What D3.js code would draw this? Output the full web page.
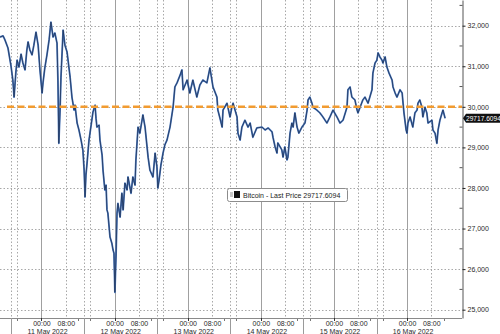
<!DOCTYPE html>
<html>
<head>
<meta charset="utf-8">
<script src="https://cdn.jsdelivr.net/npm/d3@7"></script>
<style>
  body { margin: 0; background: #fff; overflow: hidden; }
  svg { display: block; font-family: "Liberation Sans", Arial, sans-serif; }
</style>
</head>
<body>
<div id="chart"></div>
<script>
const seriesName = 'Bitcoin - Last Price';
const lastPrice = 29717.6094;
const refLevel = 30000;
const dayLabels = ['11 May 2022', '12 May 2022', '13 May 2022', '14 May 2022', '15 May 2022', '16 May 2022'];
const priceTicks = [25000, 26000, 27000, 28000, 29000, 30000, 31000, 32000];

// hours after 11 May 2022 00:00, and the price at that time
const hours = [
  -13.6,-12.6,-12.0,-11.0,-10.0,-9.4,-9.0,-8.4,-8.0,-7.4,
  -6.7,-6.1,-5.4,-4.8,-4.4,-3.8,-3.1,-2.5,-1.8,-1.1,
  -0.5,0.2,0.5,1.1,1.8,2.5,3.1,3.8,4.4,5.1,
  5.4,5.7,6.1,6.4,7.1,7.7,8.4,9.4,10.0,10.7,
  11.0,11.7,12.3,13.0,13.6,14.0,14.3,14.6,14.9,15.6,
  16.3,16.9,17.6,17.9,18.2,18.9,19.2,19.9,20.2,20.8,
  21.2,21.5,21.8,22.5,23.1,23.5,23.8,24.1,24.5,24.8,
  25.1,25.8,26.4,26.8,27.4,28.1,28.4,29.4,30.0,30.7,
  31.0,31.7,32.3,33.3,34.0,35.0,35.6,36.6,37.3,37.9,
  38.2,38.6,39.2,39.9,40.5,41.2,42.2,43.2,43.8,44.5,
  45.5,46.1,46.5,47.8,48.7,49.7,51.0,52.0,53.0,54.3,
  55.3,56.3,57.6,57.9,58.6,59.3,59.6,60.9,61.9,62.5,
  62.9,64.2,64.5,65.2,65.8,66.8,67.8,68.5,69.4,70.7,
  72.4,73.4,74.4,75.7,76.0,76.7,77.3,77.6,78.9,79.3,
  79.9,80.6,80.9,81.6,82.2,82.6,83.2,83.9,84.5,85.5,
  86.5,87.2,87.5,88.1,88.8,89.1,90.4,91.4,92.4,93.7,
  94.7,95.7,97.0,98.0,99.0,100.3,100.6,101.3,101.9,102.9,
  103.6,103.9,104.6,105.5,106.2,107.2,107.8,108.5,108.8,109.5,
  110.1,110.5,111.1,111.8,112.1,112.8,113.4,114.1,115.1,115.4,
  116.1,116.7,117.7,118.4,118.7,119.0,119.7,120.0,120.3,121.0,
  121.9,122.6,123.3,123.6,124.2,124.9,125.2,125.9,126.5,126.9,
  128.2,128.5,129.2,129.8,130.2,130.8,131.5,131.8,132.5
];
const prices = [
  31720,31750,31650,31450,31005,30660,30240,30860,31150,30980,
  31300,31080,30910,31400,31600,31400,31280,31520,31840,31520,
  30910,30340,30590,30960,31280,31650,32090,31720,31820,31570,
  30660,29100,29920,30730,31890,31520,31350,30730,30240,29920,
  30040,29600,29430,29180,28930,28440,27780,28320,28560,29180,
  29550,29870,30040,29720,29500,29550,29180,28810,28440,27950,
  28070,27460,27380,26790,26640,26470,26390,25430,26390,27380,
  27620,27280,27870,27460,28120,27950,28270,27870,28270,28070,
  28690,29500,29350,29800,29500,28760,28440,28270,28860,28520,
  28000,28190,28560,28860,29060,29180,29500,29990,30490,30590,
  30780,30910,30420,30660,30340,30660,30240,30540,30660,30590,
  30960,30490,30240,29920,29720,29500,29920,30090,29750,29990,
  30090,29750,29350,29180,29500,29670,29500,29600,29250,29480,
  29500,29430,29480,29380,29250,29010,28860,29110,28940,28760,
  29010,28690,28760,29350,29600,29500,29850,29500,29350,29500,
  29600,29920,30170,30240,30090,29990,29920,29850,29750,29600,
  29750,29920,29750,29600,29670,29990,30420,30490,30240,30170,
  29920,29850,29990,30170,30240,30090,30240,30420,30830,31080,
  31150,31330,31230,31150,31080,31230,30980,30830,30660,30490,
  30340,30240,30420,30340,30090,29850,29430,29350,29600,29750,
  29500,29850,29920,30090,30170,29990,29750,29990,29850,29600,
  29670,29430,29350,29100,29430,29670,29850,29920,29718
];

const W = 500, H = 334;
const plotR = 462, plotB = 318;
const font = 7;

const days = dayLabels.map(d3.timeParse('%d %b %Y'));
const base = days[0];
const at = h => d3.timeMinute.offset(base, Math.round(h * 60));
const data = hours.map((h, i) => ({ t: at(h), p: prices[i] }));

const x = d3.scaleTime().domain([at(-13.62), at(138.05)]).range([0, plotR]);
const y = d3.scaleLinear().domain([24795, 32633]).range([plotB, 0]);
const px = d => Math.round(x(d)) + 0.5;

const svg = d3.select('#chart').append('svg')
  .attr('width', W).attr('height', H);

// horizontal grid
svg.append('g')
  .selectAll('line').data(priceTicks).join('line')
  .attr('x1', 0).attr('x2', plotR)
  .attr('y1', d => Math.round(y(d)) + 0.5).attr('y2', d => Math.round(y(d)) + 0.5)
  .attr('stroke', '#a8a8a8').attr('stroke-dasharray', '1.5,2');

// vertical grid: dotted at 08:00 / 16:00 and date separators, solid at midnight
const prevDays = [d3.timeDay.offset(days[0], -1), ...days.slice(0, -1)];
const separators = prevDays.map(d => d3.timeHour.offset(d, 14));
const dotted = [
  ...days.map(d => d3.timeHour.offset(d, 8)),
  ...prevDays.map(d => d3.timeHour.offset(d, 16)),
  ...separators
];
svg.append('g')
  .selectAll('line').data(dotted).join('line')
  .attr('x1', px).attr('x2', px)
  .attr('y1', 0).attr('y2', plotB)
  .attr('stroke', '#a8a8a8').attr('stroke-dasharray', '1.5,2');
svg.append('g')
  .selectAll('line').data(days).join('line')
  .attr('x1', px).attr('x2', px)
  .attr('y1', 0).attr('y2', plotB)
  .attr('stroke', '#a0a0a0');

// price line
const line = d3.line().x(d => x(d.t)).y(d => y(d.p));
svg.append('path').datum(data)
  .attr('d', line).attr('fill', 'none')
  .attr('stroke', '#4a78be').attr('stroke-width', 1.8).attr('stroke-linejoin', 'round');
svg.append('path').datum(data)
  .attr('d', line).attr('fill', 'none')
  .attr('stroke', '#1b2b4a').attr('stroke-width', 0.7).attr('stroke-linejoin', 'round');

// 30000 reference line
svg.append('line')
  .attr('x1', 7).attr('x2', plotR)
  .attr('y1', y(refLevel)).attr('y2', y(refLevel))
  .attr('stroke', '#f29b30').attr('stroke-width', 2.5).attr('stroke-dasharray', '7,3.5');

// bottom axis
svg.append('line').attr('x1', 0).attr('x2', plotR)
  .attr('y1', plotB + 0.5).attr('y2', plotB + 0.5).attr('stroke', '#8a8a8a');
const hourTicks = days.flatMap(d => [d, d3.timeHour.offset(d, 8)]);
svg.append('g').attr('transform', `translate(0,${plotB})`)
  .call(d3.axisBottom(x).tickValues(hourTicks).tickFormat(d3.timeFormat('%H:%M')).tickSize(0).tickPadding(3))
  .call(a => a.select('.domain').remove())
  .call(a => a.selectAll('text').attr('font-size', font).attr('fill', '#2a2a2a').attr('font-family', null));
svg.append('g').selectAll('line').data(days).join('line')
  .attr('x1', px).attr('x2', px)
  .attr('y1', plotB).attr('y2', plotB + 3).attr('stroke', '#333');
const minorX = prevDays.flatMap(d => [d3.timeHour.offset(d, 16), d3.timeHour.offset(d, 36)]);
svg.append('g').selectAll('line').data(minorX).join('line')
  .attr('x1', px).attr('x2', px)
  .attr('y1', plotB + 1).attr('y2', plotB + 3).attr('stroke', '#777');
svg.append('g').selectAll('line').data(separators).join('line')
  .attr('x1', px).attr('x2', px)
  .attr('y1', plotB).attr('y2', H).attr('stroke', '#9a9a9a');
svg.append('g').selectAll('text').data(dayLabels).join('text')
  .attr('x', (d, i) => x(d3.timeHour.offset(days[i], 2)))
  .attr('y', 334)
  .attr('text-anchor', 'middle').attr('font-size', font).attr('fill', '#2a2a2a')
  .text(d => d);

// right axis
const right = svg.append('g').attr('transform', `translate(${plotR + 0.5},0)`);
right.call(d3.axisRight(y).tickValues(priceTicks).tickSize(3).tickSizeOuter(0).tickPadding(2))
  .call(a => a.select('.domain').attr('stroke', '#555'))
  .call(a => a.selectAll('.tick line').attr('stroke', '#222'))
  .call(a => a.selectAll('text').attr('font-size', font).attr('fill', '#2a2a2a').attr('font-family', null));
right.append('g').selectAll('line')
  .data(priceTicks.map(v => v + 500).filter(v => y(v) > 0))
  .join('line')
  .attr('x1', -3).attr('x2', 0)
  .attr('y1', d => y(d)).attr('y2', d => y(d))
  .attr('stroke', '#555');

// last price tag
const tag = svg.append('g').attr('transform', `translate(${plotR + 1},${y(lastPrice)})`);
tag.append('path').attr('d', 'M0,0 L3,-4.5 H45 V4.5 H3 Z').attr('fill', '#111');
tag.append('text').attr('x', 3).attr('dy', '0.35em')
  .attr('font-size', 6.6).attr('fill', '#fff')
  .text(lastPrice.toFixed(4));

// legend
const leg = svg.append('g').attr('transform', 'translate(227,188)');
leg.append('rect').attr('x', 0.5).attr('y', 0.5).attr('width', 120).attr('height', 13).attr('rx', 2)
  .attr('fill', '#fff').attr('stroke', '#8c8c8c');
leg.append('rect').attr('x', 3).attr('y', 4).attr('width', 3).attr('height', 5).attr('fill', '#c8c8c8');
leg.append('rect').attr('x', 7).attr('y', 3).attr('width', 6).attr('height', 7).attr('fill', '#111');
leg.append('text').attr('x', 16).attr('y', 10)
  .attr('font-size', font).attr('fill', '#222')
  .text(`${seriesName} ${lastPrice.toFixed(4)}`);
</script>
</body>
</html>
